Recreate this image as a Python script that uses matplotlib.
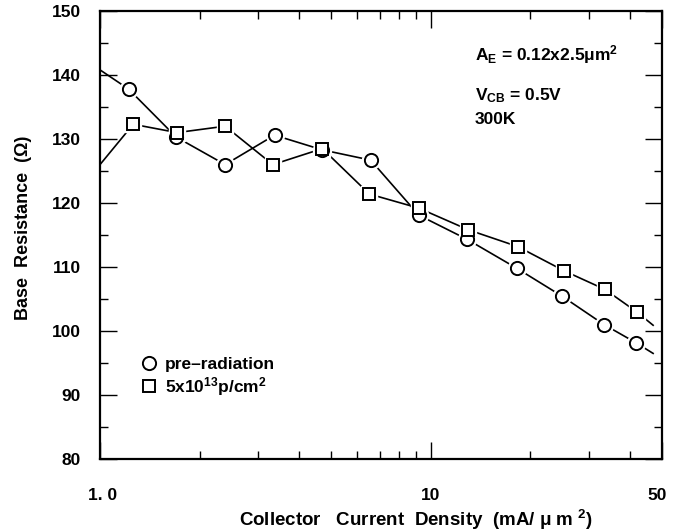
import matplotlib.pyplot as plt
from matplotlib.lines import Line2D
from matplotlib.ticker import FixedLocator, NullFormatter
from matplotlib.transforms import ScaledTranslation

plt.rcParams["font.family"] = ["Liberation Sans", "DejaVu Sans"]
plt.rcParams["font.weight"] = "bold"
plt.rcParams["mathtext.fontset"] = "custom"
plt.rcParams["mathtext.rm"] = "Liberation Sans:bold"
plt.rcParams["mathtext.it"] = "Liberation Sans:bold"
plt.rcParams["mathtext.bf"] = "Liberation Sans:bold"
plt.rcParams["mathtext.default"] = "rm"

# current density (mA/um^2) and base resistance (ohm)
x_pre = [1.22, 1.70, 2.39, 3.37, 4.70, 6.58, 9.2, 12.9, 18.2, 25.0, 33.4, 41.6]
y_pre = [137.8, 130.3, 126.0, 130.6, 128.3, 126.7, 118.1, 114.3, 109.8, 105.4, 101.0, 98.2]
x_rad = [1.26, 1.71, 2.39, 3.33, 4.70, 6.52, 9.2, 13.0, 18.3, 25.3, 33.6, 41.9]
y_rad = [132.3, 131.0, 132.0, 126.0, 128.5, 121.4, 119.2, 115.8, 113.2, 109.4, 106.5, 103.0]

# fitted line continues past the first and last measured points
pre_ends_x = [1.0, 47.0]
pre_ends_y = [140.8, 96.5]
rad_ends_x = [1.0, 47.0]
rad_ends_y = [126.0, 100.9]

x_major = [1.0, 10.0, 50.0]
x_major_labels = ["1. 0", "10", "50"]
x_minor = [2, 3, 4, 5, 6, 7, 8, 9, 20, 30, 40]
y_major = [80, 90, 100, 110, 120, 130, 140, 150]
y_minor = [85, 95, 105, 115, 125, 135, 145]


def draw_series(ax, xs, ys, ends_x, ends_y, marker, ms):
    lx = [ends_x[0]] + xs + [ends_x[1]]
    ly = [ends_y[0]] + ys + [ends_y[1]]
    ax.plot(lx, ly, color="black", lw=1.2, zorder=2)
    # white halo leaves a small gap between line and marker
    ax.plot(xs, ys, ls="none", marker=marker, ms=ms + 3.5,
            mfc="white", mec="white", zorder=3)
    ax.plot(xs, ys, ls="none", marker=marker, ms=ms,
            mfc="white", mec="black", mew=1.4, zorder=4)


def main():
    fig = plt.figure(figsize=(6.79, 5.31), dpi=100)
    ax = fig.add_axes([100 / 679, 72 / 531, 562 / 679, 448 / 531])

    draw_series(ax, x_pre, y_pre, pre_ends_x, pre_ends_y, "o", 9.5)
    draw_series(ax, x_rad, y_rad, rad_ends_x, rad_ends_y, "s", 8.5)

    ax.set_xscale("log")
    ax.set_xlim(1.0, 50.0)
    ax.set_ylim(80, 150)

    ax.xaxis.set_major_locator(FixedLocator(x_major))
    ax.set_xticklabels(x_major_labels)
    ax.xaxis.set_minor_locator(FixedLocator(x_minor))
    ax.xaxis.set_minor_formatter(NullFormatter())
    ax.set_yticks(y_major)
    ax.set_yticks(y_minor, minor=True)

    for side in ax.spines.values():
        side.set_linewidth(1.6)
    ax.tick_params(which="both", direction="in", top=True, right=True,
                   width=1.0, labelsize=12.5)
    ax.tick_params(which="major", length=12)
    ax.tick_params(which="minor", length=6)
    ax.tick_params(axis="x", which="major", pad=21)
    ax.tick_params(axis="y", which="major", pad=14)

    # nudge the end labels on the log axis
    xlabels = ax.get_xticklabels()
    shifts = [3, 0, -5]
    for lab, dx in zip(xlabels, shifts):
        lab.set_transform(lab.get_transform()
                          + ScaledTranslation(dx / 100, 0, fig.dpi_scale_trans))

    fig.text(24 / 679, 1 - 228 / 531, "Base  Resistance  (\u03a9)",
             rotation=90, ha="center", va="center", fontsize=13)
    fig.text(416 / 679, 1 - 520 / 531,
             "Collector   Current  Density  (mA/ $\\mu$ m $^{2}$)",
             ha="center", va="center", fontsize=13.5)

    ax.text(475 / 679, 1 - 55 / 531,
            "A$_{E}$ = 0.12x2.5$\\mu$m$^{2}$",
            transform=fig.transFigure, ha="left", va="center", fontsize=12.5)
    ax.text(475 / 679, 1 - 96 / 531, "V$_{CB}$ = 0.5V",
            transform=fig.transFigure, ha="left", va="center", fontsize=12.5)
    ax.text(475 / 679, 1 - 119 / 531, "300K",
            transform=fig.transFigure, ha="left", va="center", fontsize=12.5)

    handles = [
        Line2D([], [], ls="none", marker="o", ms=9.5, mfc="white",
               mec="black", mew=1.4),
        Line2D([], [], ls="none", marker="s", ms=8.5, mfc="white",
               mec="black", mew=1.4),
    ]
    ax.legend(handles, ["pre\u2013radiation", "5x10$^{13}$p/cm$^{2}$"],
              loc="upper left", bbox_to_anchor=(0.072, 0.228),
              frameon=False, borderpad=0, borderaxespad=0,
              handlelength=1.0, handletextpad=0.4, labelspacing=0.15,
              prop={"size": 12.5, "weight": "bold"})

    fig.savefig("out.png", dpi=100)


if __name__ == "__main__":
    main()
